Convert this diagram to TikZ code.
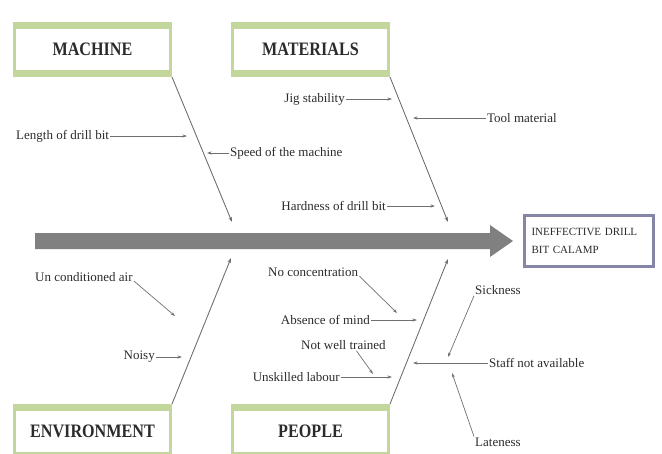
\documentclass[tikz,border=0pt]{standalone}
\usepackage{fontspec}
\setmainfont{Liberation Serif}
\newfontfamily\titlefont[FakeStretch=0.85]{Liberation Serif}
\usetikzlibrary{arrows.meta,calc}
\definecolor{boxgreen}{HTML}{C3D69B}
\definecolor{effborder}{HTML}{8585A5}
\definecolor{bone}{HTML}{707070}
\definecolor{spine}{HTML}{808080}
\definecolor{txt}{HTML}{2B2B2B}
\begin{document}
\begin{tikzpicture}[x=1pt,y=-1pt,
  catbox/.style={draw=boxgreen, line width=3pt, fill=white, minimum width=156pt, minimum height=52pt, inner sep=0pt, font=\titlefont\bfseries\fontsize{19}{22}\selectfont, text=txt},
  effbox/.style={draw=effborder, line width=3pt, fill=white, minimum width=129pt, minimum height=51pt, inner xsep=7pt, text width=115pt, align=left, font=\fontsize{11}{18}\selectfont, text=txt},
  lbl/.style={font=\fontsize{13}{15}\selectfont, text=txt, inner sep=1pt},
  bonearrow/.style={draw=bone, line width=0.9pt, -{Stealth[length=5pt,width=3.5pt]}},
  cause/.style={draw=bone, line width=0.7pt, -{Stealth[length=4.5pt,width=3pt]}},
]
\useasboundingbox (0,0) rectangle (662,453);

% category boxes
\node[catbox] (mach) at (92.5,49.5) {MACHINE};
\node[catbox] (mat) at (310.5,49.5) {MATERIALS};
\node[catbox] (env) at (92.5,431.5) {ENVIRONMENT};
\node[catbox] (peo) at (310.5,431.5) {PEOPLE};
\foreach \b in {mach,mat,env,peo}{
  \draw[boxgreen, line width=7pt] ([yshift=-3.5pt]\b.north west) -- ([yshift=-3.5pt]\b.north east);
  \draw[boxgreen, line width=7pt] ([yshift=3.5pt]\b.south west) -- ([yshift=3.5pt]\b.south east);
}

% effect
\node[effbox] (eff) at (589,241) {INEFFECTIVE DRILL\\BIT CALAMP};

% spine
\fill[spine] (35,233) -- (490,233) -- (490,225) -- (513,241) -- (490,257) -- (490,249) -- (35,249) -- cycle;

% bones
\coordinate (machT) at (232,222);
\coordinate (matT) at (448,222);
\coordinate (envT) at (231,258);
\coordinate (peoT) at (448,259);
\draw[bonearrow] (mach.south east) -- (machT);
\draw[bonearrow] (mat.south east) -- (matT);
\draw[bonearrow] (env.north east) -- (envT);
\draw[bonearrow] (peo.north east) -- (peoT);

% machine causes
\node[lbl, anchor=west] (len) at (15,136) {Length of drill bit};
\coordinate (lenT) at (187,136);
\draw[cause] (len.east) -- (lenT);
\node[lbl, anchor=west] (speed) at (229,153) {Speed of the machine};
\coordinate (speedT) at (207,153);
\draw[cause] (speed.west) -- (speedT);

% materials causes
\node[lbl, anchor=east] (jig) at (346,99) {Jig stability};
\coordinate (jigT) at (392,99);
\draw[cause] (jig.east) -- (jigT);
\node[lbl, anchor=west] (tool) at (486,118) {Tool material};
\coordinate (toolT) at (413,118);
\draw[cause] (tool.west) -- (toolT);
\node[lbl, anchor=east] (hard) at (387,206) {Hardness of drill bit};
\coordinate (hardT) at (435,206);
\draw[cause] (hard.east) -- (hardT);

% environment causes
\node[lbl, anchor=west] (uair) at (34,277) {Un conditioned air};
\coordinate (uairT) at (175,316);
\draw[cause] ([yshift=-4pt]uair.east) -- (uairT);
\node[lbl, anchor=east] (noisy) at (156,357) {Noisy};
\coordinate (noisyT) at (182,357);
\draw[cause] (noisy.east) -- (noisyT);

% people causes
\node[lbl, anchor=west] (noconc) at (267,272) {No concentration};
\coordinate (noconcT) at (397,313);
\draw[cause] ([yshift=-4pt]noconc.east) -- (noconcT);
\node[lbl, anchor=east] (absence) at (371,320) {Absence of mind};
\coordinate (absT) at (417,320);
\draw[cause] (absence.east) -- (absT);
\node[lbl, anchor=west] (nwt) at (300,345) {Not well trained};
\coordinate (nwtT) at (373,374);
\draw[cause] ($(nwt.south)+(13,0)$) -- (nwtT);
\node[lbl, anchor=east] (unsk) at (341,377) {Unskilled labour};
\coordinate (unskT) at (392,377);
\draw[cause] (unsk.east) -- (unskT);

% right-hand causes
\node[lbl, anchor=west] (sick) at (474,290) {Sickness};
\coordinate (sickT) at (448,357);
\draw[cause] (sick.south west) -- (sickT);
\node[lbl, anchor=west] (staff) at (488,363) {Staff not available};
\coordinate (staffT) at (413,363);
\draw[cause] (staff.west) -- (staffT);
\node[lbl, anchor=west] (late) at (474,442) {Lateness};
\coordinate (lateT) at (452,373);
\draw[cause] (late.north west) -- (lateT);
\end{tikzpicture}
\end{document}
